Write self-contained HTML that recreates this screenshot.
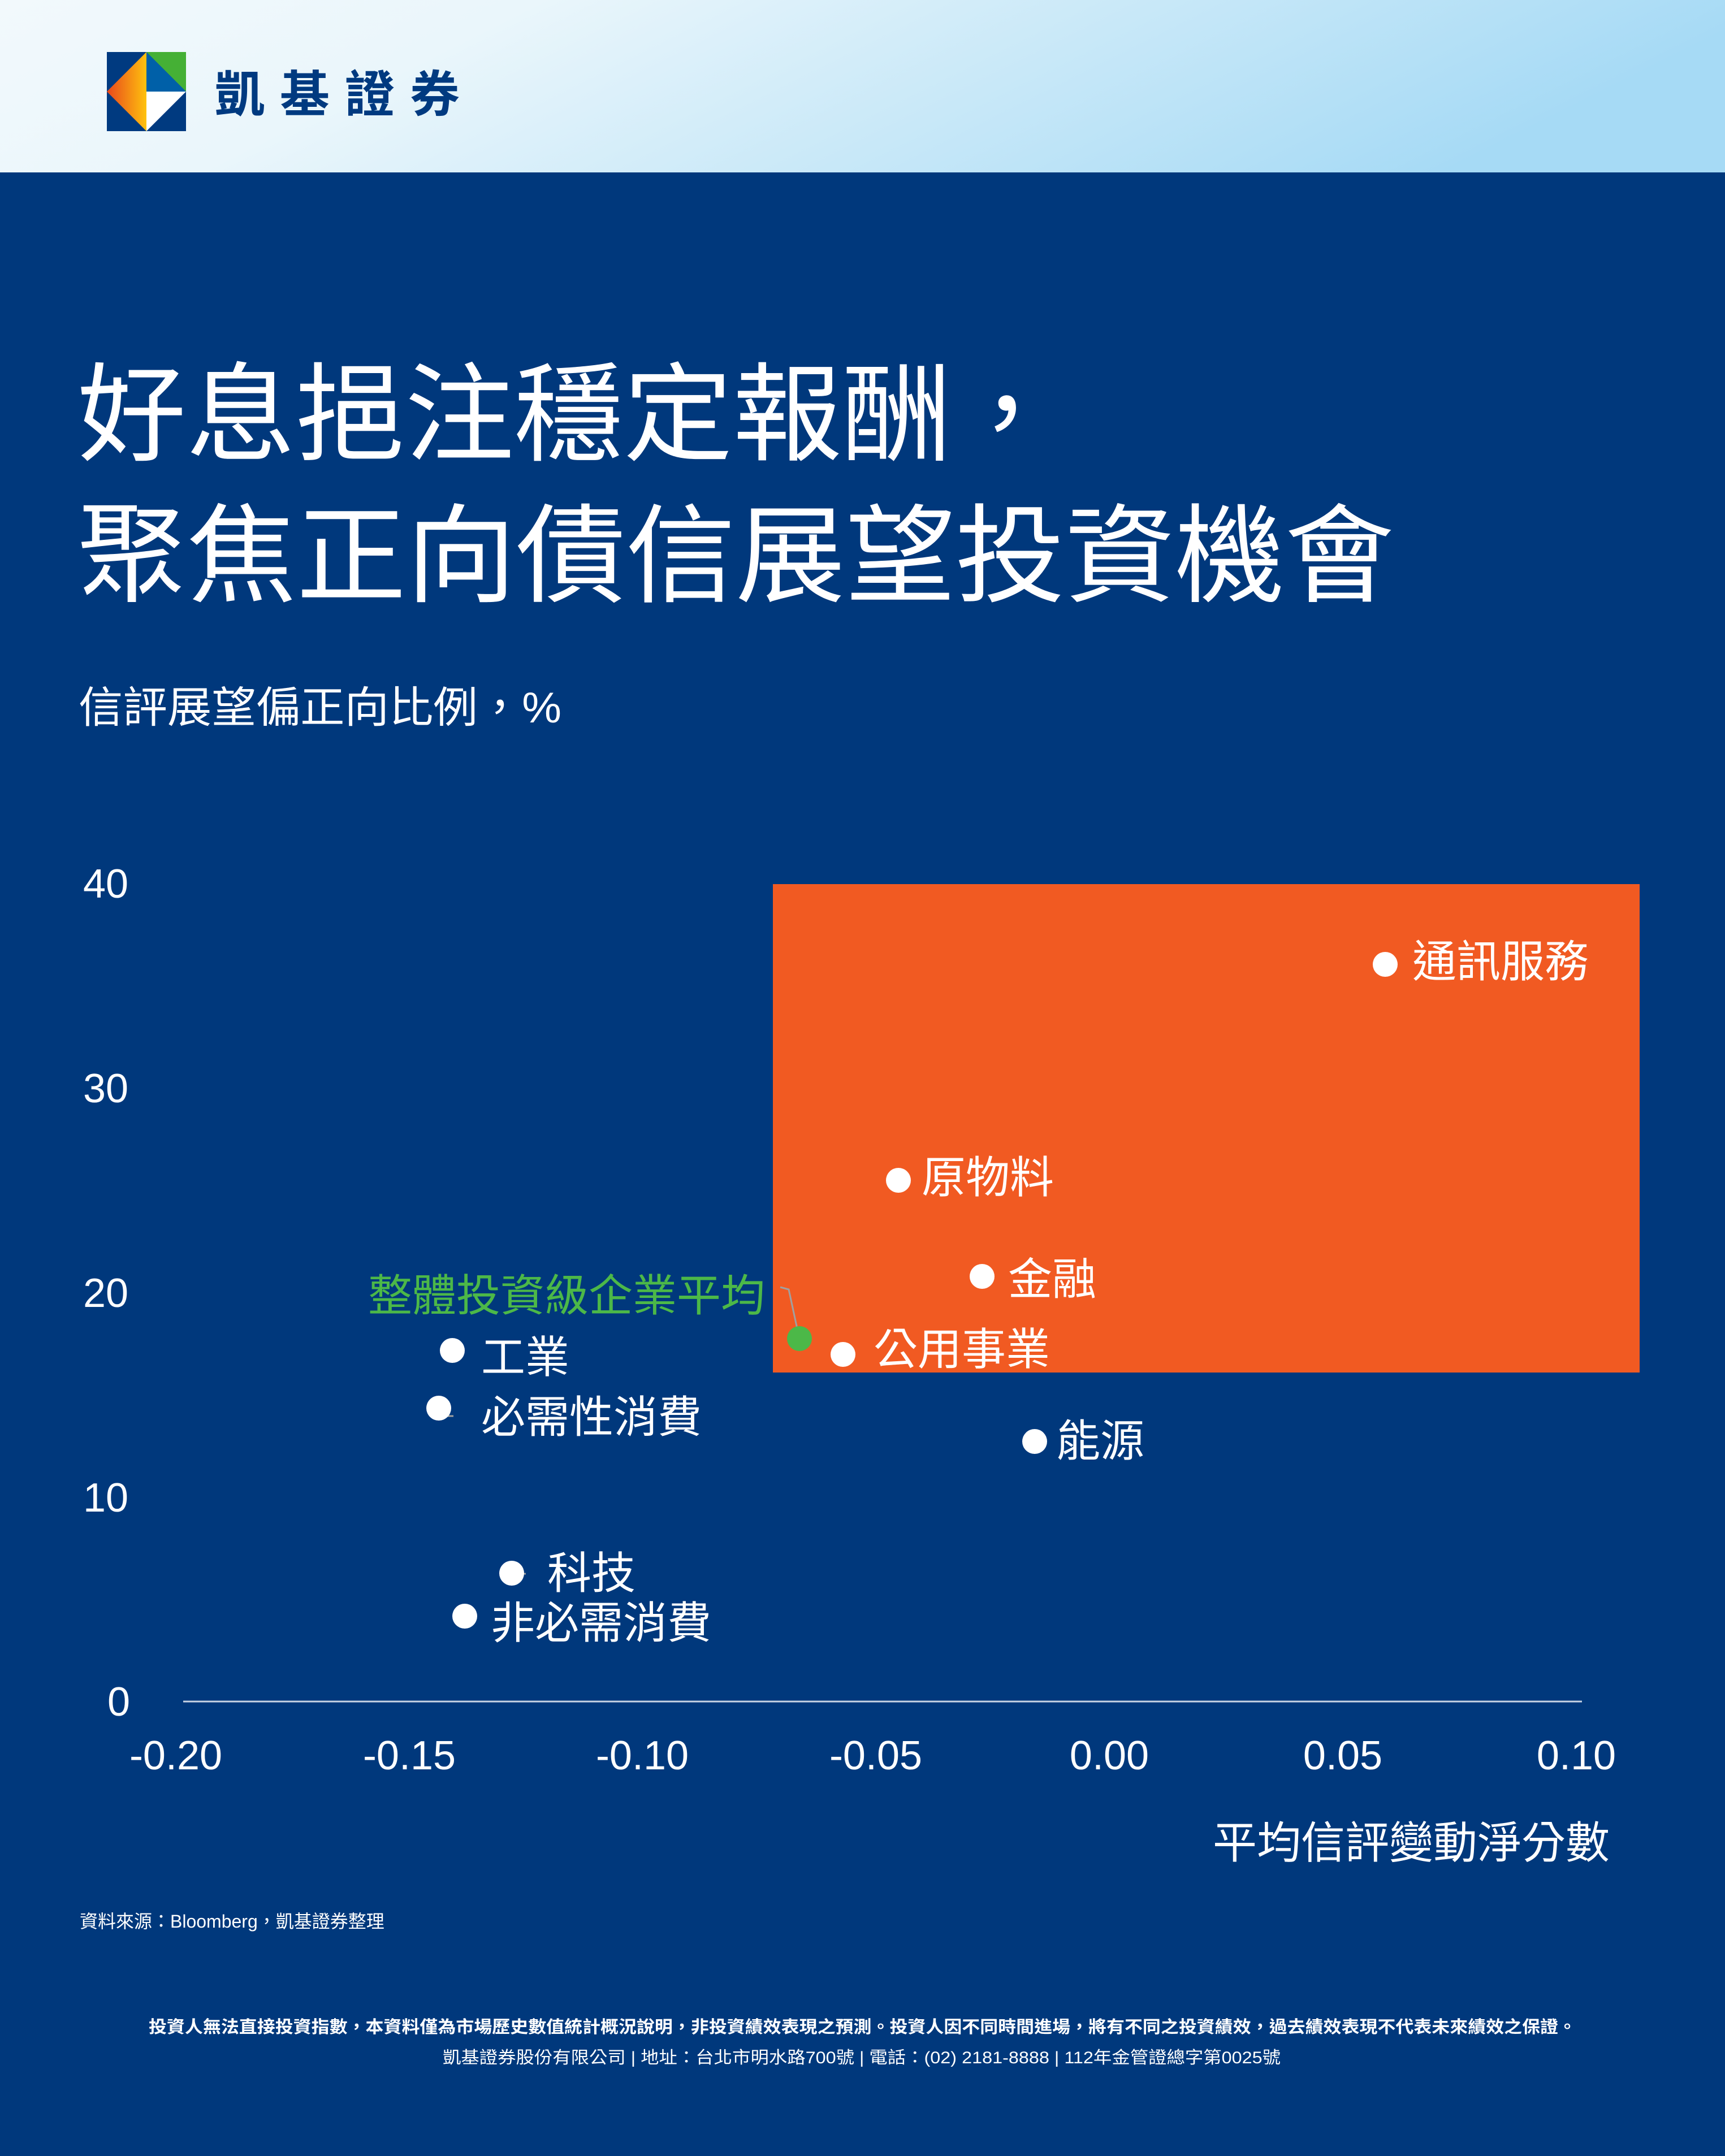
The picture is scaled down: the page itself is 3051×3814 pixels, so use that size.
<!DOCTYPE html>
<html><head><meta charset="utf-8"><style>html,body{margin:0;padding:0;background:#00387c}svg{display:block}</style></head>
<body>
<svg xmlns="http://www.w3.org/2000/svg" width="3051" height="3814" viewBox="0 0 3051 3814" font-family="'Liberation Sans','Noto Sans CJK TC',sans-serif">
<defs>
<linearGradient id="hg" x1="0" y1="0" x2="1" y2="0.2">
<stop offset="0" stop-color="#f2f9fc"/><stop offset="0.3" stop-color="#eaf6fb"/><stop offset="1" stop-color="#a6daf5"/>
</linearGradient>
<linearGradient id="lg" x1="0" y1="0" x2="1" y2="0">
<stop offset="0" stop-color="#e8471c"/><stop offset="1" stop-color="#ffc20e"/>
</linearGradient>
</defs>
<rect width="3051" height="3814" fill="#00387c"/>
<rect width="3051" height="305" fill="url(#hg)"/>
<!-- logo -->
<rect x="189" y="92" width="140" height="140" fill="#003a80"/>
<polygon points="259,92 189,162 259,232" fill="url(#lg)"/>
<polygon points="259,92 329,92 329,162" fill="#45b035"/>
<polygon points="259,92 329,162 259,162" fill="#0060a8"/>
<polygon points="259,162 329,162 259,232" fill="#ffffff"/>
<text x="380" y="198" font-size="88" font-weight="bold" fill="#003a80" textLength="433" lengthAdjust="spacing">凱基證券</text>
<!-- title -->
<text x="136" y="800" font-size="190" fill="#fff" textLength="1740" lengthAdjust="spacingAndGlyphs">好息挹注穩定報酬，</text>
<text x="136" y="1050" font-size="190" fill="#fff" textLength="2330" lengthAdjust="spacingAndGlyphs">聚焦正向債信展望投資機會</text>
<text x="139" y="1278" font-size="76" fill="#fff" textLength="854" lengthAdjust="spacingAndGlyphs">信評展望偏正向比例，%</text>
<!-- y ticks -->
<g font-size="72" fill="#fff" text-anchor="middle">
<text x="187" y="1588">40</text>
<text x="187" y="1950">30</text>
<text x="187" y="2312">20</text>
<text x="187" y="2674">10</text>
<text x="210" y="3035">0</text>
</g>
<!-- orange rect -->
<rect x="1367" y="1564" width="1533" height="864" fill="#f15a22"/>
<line x1="324" y1="3010" x2="2798" y2="3010" stroke="#c8d3e3" stroke-width="3"/>
<!-- x ticks -->
<g font-size="72" fill="#fff" text-anchor="middle">
<text x="311" y="3130">-0.20</text>
<text x="724" y="3130">-0.15</text>
<text x="1136" y="3130">-0.10</text>
<text x="1549" y="3130">-0.05</text>
<text x="1962" y="3130">0.00</text>
<text x="2375" y="3130">0.05</text>
<text x="2788" y="3130">0.10</text>
</g>
<text x="2847" y="3287" font-size="78" fill="#fff" text-anchor="end">平均信評變動淨分數</text>
<!-- leader lines -->
<g stroke="#a0a0a0" stroke-width="3" fill="none">
<polyline points="1380,2277 1395,2281 1414,2369"/>
<polyline points="776,2490 790,2505 802,2505"/>
<polyline points="908,2794 920,2784 930,2784"/>
</g>
<!-- points -->
<g fill="#fff">
<circle cx="2450" cy="1706" r="22"/>
<circle cx="1589" cy="2088" r="22"/>
<circle cx="1737" cy="2258" r="22"/>
<circle cx="1491" cy="2396" r="22"/>
<circle cx="800" cy="2389" r="22"/>
<circle cx="776" cy="2491" r="22"/>
<circle cx="1830" cy="2550" r="22"/>
<circle cx="905" cy="2783" r="22"/>
<circle cx="822" cy="2859" r="22"/>
</g>
<circle cx="1414" cy="2368" r="22" fill="#4cb848"/>
<g font-size="78" fill="#fff">
<text x="2498" y="1728">通訊服務</text>
<text x="1630" y="2110">原物料</text>
<text x="1783" y="2290">金融</text>
<text x="1545" y="2414">公用事業</text>
<text x="851" y="2428">工業</text>
<text x="851" y="2534">必需性消費</text>
<text x="1868" y="2576">能源</text>
<text x="968" y="2810">科技</text>
<text x="868" y="2898">非必需消費</text>
</g>
<text x="1353" y="2319" font-size="78" fill="#4cb848" text-anchor="end">整體投資級企業平均</text>
<!-- footer -->
<text x="141" y="3410" font-size="32" fill="#fff">資料來源：Bloomberg，凱基證券整理</text>
<text x="263" y="3596" font-size="30" font-weight="bold" fill="#fff" textLength="2525" lengthAdjust="spacingAndGlyphs">投資人無法直接投資指數，本資料僅為市場歷史數值統計概況說明，非投資績效表現之預測。投資人因不同時間進場，將有不同之投資績效，過去績效表現不代表未來績效之保證。</text>
<text x="783" y="3650" font-size="30" fill="#fff" textLength="1482" lengthAdjust="spacingAndGlyphs">凱基證券股份有限公司 | 地址：台北市明水路700號 | 電話：(02) 2181-8888 | 112年金管證總字第0025號</text>
</svg>
</body></html>
